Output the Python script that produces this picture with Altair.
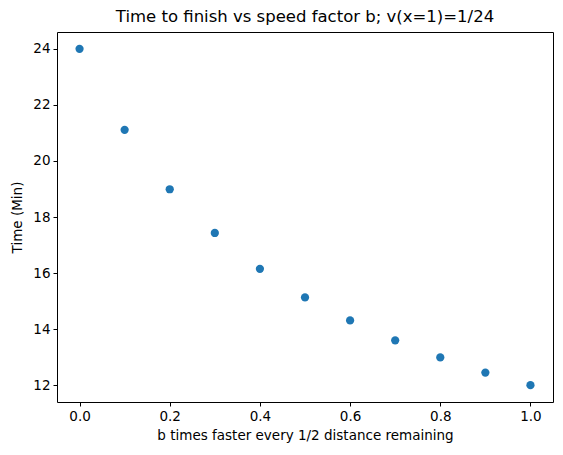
import altair as alt
import pandas as pd

b_values = [0.0, 0.1, 0.2, 0.3, 0.4, 0.5, 0.6, 0.7, 0.8, 0.9, 1.0]
time_min = [24.0, 21.11, 18.99, 17.43, 16.15, 15.13, 14.31, 13.6, 12.99, 12.45, 12.0]
x_ticks = [0.0, 0.2, 0.4, 0.6, 0.8, 1.0]
y_ticks = [12, 14, 16, 18, 20, 22, 24]

df = pd.DataFrame({'b': b_values, 'time': time_min})

font = 'DejaVu Sans'

chart = alt.Chart(df).mark_circle(size=68, opacity=1, color='#1f77b4').encode(
    alt.X('b:Q', scale=alt.Scale(domain=[-0.05, 1.05], nice=False, zero=False),
          axis=alt.Axis(values=x_ticks, format='.1f', grid=False,
                        title='b times faster every 1/2 distance remaining',
                        tickSize=4, labelPadding=3, titlePadding=6)),
    alt.Y('time:Q', scale=alt.Scale(domain=[11.4, 24.6], nice=False, zero=False),
          axis=alt.Axis(values=y_ticks, format='d', grid=False,
                        title='Time (Min)', tickSize=4, labelPadding=3,
                        titlePadding=8))
).properties(
    width=496,
    height=370,
    title='Time to finish vs speed factor b; v(x=1)=1/24',
    autosize=alt.AutoSizeParams(type='none'),
    padding={'left': 49, 'top': 24, 'right': 2, 'bottom': 45}
).configure_view(
    stroke='black', strokeWidth=1
).configure_axis(
    domain=False, tickColor='black', labelColor='black', titleColor='black',
    labelFont=font, titleFont=font, labelFontSize=13.5, titleFontSize=13.5,
    titleFontWeight='normal'
).configure_title(
    font=font, fontSize=16.5, fontWeight='normal', color='black', offset=7
)

chart.save("out.html", embed_options={"renderer": "svg", "actions": False})
